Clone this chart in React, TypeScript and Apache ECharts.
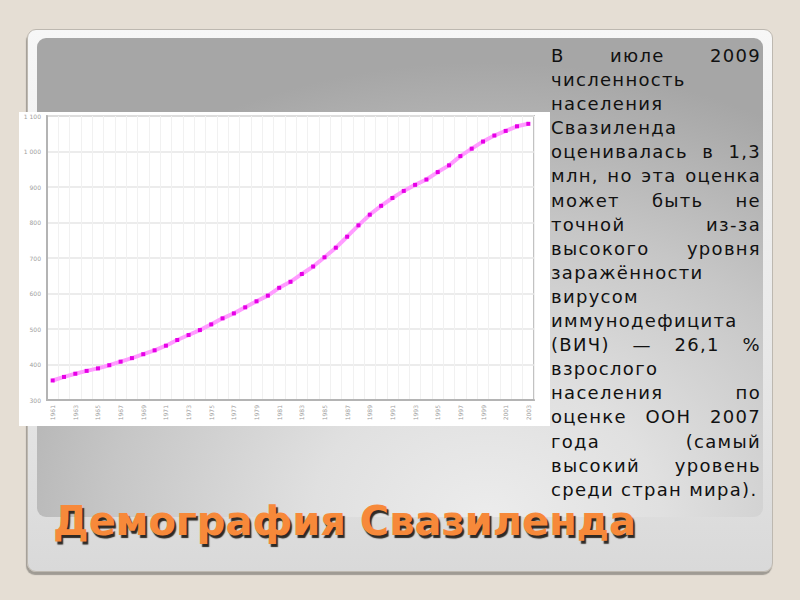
import { useEffect, useRef } from 'react'
import * as echarts from 'echarts'

// население Свазиленда, тыс. человек
const years = [
  '1961', '1962', '1963', '1964', '1965', '1966', '1967', '1968', '1969', '1970',
  '1971', '1972', '1973', '1974', '1975', '1976', '1977', '1978', '1979', '1980',
  '1981', '1982', '1983', '1984', '1985', '1986', '1987', '1988', '1989', '1990',
  '1991', '1992', '1993', '1994', '1995', '1996', '1997', '1998', '1999', '2000',
  '2001', '2002', '2003',
]
const population = [
  355, 365, 374, 382, 389, 398, 408, 418, 429, 440,
  453, 469, 483, 497, 513, 530, 544, 561, 578, 594,
  616, 633, 655, 676, 702, 729, 760, 792, 822, 847,
  869, 889, 906, 921, 942, 961, 987, 1008, 1028, 1045,
  1058, 1071, 1078,
]
const yMin = 300
const yMax = 1100
const yStep = 100

const textLines = [
  'В июле 2009',
  'численность',
  'населения',
  'Свазиленда',
  'оценивалась в 1,3',
  'млн, но эта оценка',
  'может быть не',
  'точной из-за',
  'высокого уровня',
  'заражённости',
  'вирусом',
  'иммунодефицита',
  '(ВИЧ) — 26,1 %',
  'взрослого',
  'населения по',
  'оценке ООН 2007',
  'года (самый',
  'высокий уровень',
  'среди стран мира).',
]
const title = 'Демография Свазиленда'

const fmtTick = (v: number) =>
  v >= 1000 ? `${Math.floor(v / 1000)} ${String(v % 1000).padStart(3, '0')}` : String(v)

function PopulationChart() {
  const ref = useRef<HTMLDivElement>(null)

  useEffect(() => {
    if (!ref.current) return
    const chart = echarts.init(ref.current, null, { renderer: 'svg' })
    chart.setOption({
      animation: false,
      backgroundColor: '#ffffff',
      grid: {
        left: 28, right: 16, top: 4, bottom: 26,
        show: true, backgroundColor: '#ffffff', borderColor: '#c2c2c2', borderWidth: 2,
      },
      xAxis: {
        type: 'category',
        data: years,
        boundaryGap: true,
        axisLine: { lineStyle: { color: '#b4b4b4', width: 2 } },
        axisTick: { show: false },
        axisLabel: { rotate: 90, interval: 1, fontSize: 6, color: '#a0a0a0', margin: 5, fontFamily: 'DejaVu Sans' },
        splitLine: { show: true, interval: 0, lineStyle: { color: '#f1f1f1', width: 1 } },
      },
      yAxis: {
        type: 'value',
        min: yMin,
        max: yMax,
        interval: yStep,
        axisLine: { show: true, lineStyle: { color: '#b4b4b4', width: 2 } },
        axisTick: { show: false },
        axisLabel: { fontSize: 6, color: '#a0a0a0', margin: 6, formatter: fmtTick, fontFamily: 'DejaVu Sans' },
        splitLine: { lineStyle: { color: '#e6e6e6', width: 1.5 } },
      },
      series: [
        {
          type: 'line',
          data: population,
          symbol: 'rect',
          symbolSize: 4,
          itemStyle: { color: '#e600e6' },
          lineStyle: { color: '#ff9cff', width: 4 },
        },
      ],
    })
    return () => chart.dispose()
  }, [])

  return (
    <div
      ref={ref}
      style={{ position: 'absolute', left: 19, top: 112, width: 531, height: 314, background: '#fff' }}
    />
  )
}

export default function App() {
  return (
    <div style={{
      position: 'fixed', left: 0, top: 0, width: 800, height: 600, overflow: 'hidden',
      background: '#e5ded4', fontFamily: '"DejaVu Sans", sans-serif',
    }}>
      {/* карточка слайда */}
      <div style={{
        position: 'absolute', left: 27, top: 29, width: 746, height: 543, borderRadius: 9,
        background: 'linear-gradient(180deg, #f7f7f7 0%, #e8e8e8 60%, #d9d9d9 100%)',
        border: '1px solid #bdb8b0', boxSizing: 'border-box',
        boxShadow: '-1px 3px 1px #9f9b94',
      }} />
      {/* серая панель */}
      <div style={{
        position: 'absolute', left: 37, top: 38, width: 726, height: 479, borderRadius: 9,
        background: 'radial-gradient(ellipse 80% 95% at 62% 100%, #ececec 0%, #e0e0e0 30%, #c6c6c6 65%, #a6a6a6 100%)',
      }} />

      <PopulationChart />

      <div style={{
        position: 'absolute', left: 551, top: 44, width: 210,
        fontSize: 18, lineHeight: '24.1px', letterSpacing: 1.3, color: '#111',
      }}>
        {textLines.map((line, i) => (
          <div
            key={i}
            style={{
              whiteSpace: 'nowrap',
              textAlign: 'left',
              textAlignLast: i < textLines.length - 1 && line.includes(' ') ? 'justify' : 'left',
            }}
          >
            {line}
          </div>
        ))}
      </div>

      <div style={{
        position: 'absolute', left: 53, top: 497, fontSize: 40, fontWeight: 'bold',
        lineHeight: '48px', color: '#f7893a', whiteSpace: 'nowrap',
        textShadow: '2px 3px 1px #2e2a26',
      }}>
        {title}
      </div>
    </div>
  )
}
